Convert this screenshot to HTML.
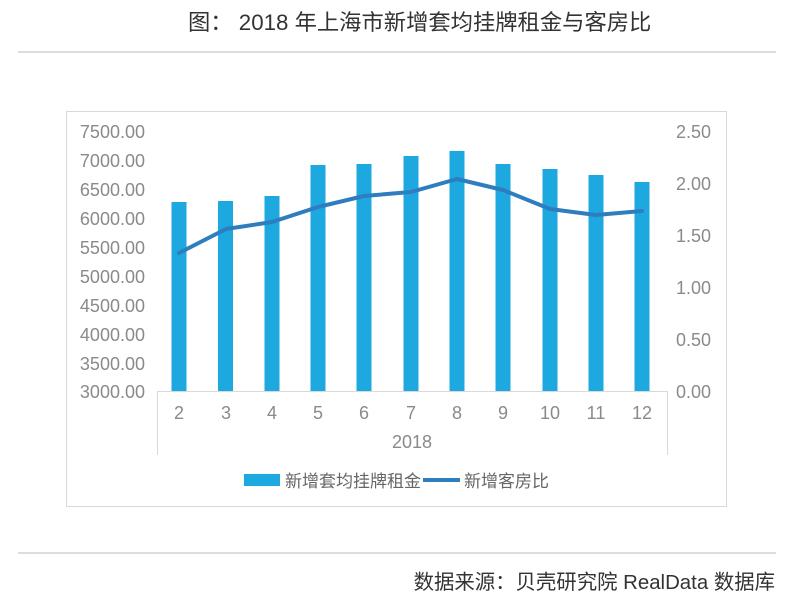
<!DOCTYPE html>
<html><head><meta charset="utf-8"><style>
body{margin:0;background:#fff;}
svg{display:block;font-family:"Liberation Sans","Noto Sans CJK SC",sans-serif;}
</style></head><body>
<svg width="786" height="604" viewBox="0 0 786 604">
<text x="188" y="30" font-size="22.3" fill="#333">图：  2018 年上海市新增套均挂牌租金与客房比</text>
<line x1="18" y1="52" x2="776" y2="52" stroke="#bbb" stroke-width="1"/>
<line x1="18" y1="553" x2="776" y2="553" stroke="#bbb" stroke-width="1"/>
<text x="775" y="589" text-anchor="end" font-size="20.4" fill="#333">数据来源：贝壳研究院 RealData 数据库</text>
<rect x="66.5" y="111.5" width="660" height="395" fill="none" stroke="#d9d9d9"/>
<g font-size="18" fill="#8a8a8a" text-anchor="end">
<text x="145" y="138">7500.00</text><text x="145" y="167">7000.00</text><text x="145" y="196">6500.00</text><text x="145" y="225">6000.00</text><text x="145" y="254">5500.00</text><text x="145" y="283">5000.00</text><text x="145" y="312">4500.00</text><text x="145" y="341">4000.00</text><text x="145" y="370">3500.00</text><text x="145" y="398">3000.00</text>
</g>
<g font-size="18" fill="#8a8a8a" text-anchor="start">
<text x="676" y="138">2.50</text><text x="676" y="190">2.00</text><text x="676" y="242">1.50</text><text x="676" y="294">1.00</text><text x="676" y="346">0.50</text><text x="676" y="398">0.00</text>
</g>
<g fill="#1ea8e0">
<rect x="171.5" y="202" width="15" height="189"/>
<rect x="218" y="201" width="15" height="190"/>
<rect x="264.5" y="196" width="15" height="195"/>
<rect x="310.5" y="165" width="15" height="226"/>
<rect x="356.5" y="164" width="15" height="227"/>
<rect x="403.5" y="156" width="15" height="235"/>
<rect x="449.5" y="151" width="15" height="240"/>
<rect x="495.5" y="164" width="15" height="227"/>
<rect x="542.5" y="169" width="15" height="222"/>
<rect x="588.5" y="175" width="15" height="216"/>
<rect x="634.5" y="182" width="15" height="209"/>
</g>
<polyline fill="none" stroke="#2e7dbf" stroke-width="4" stroke-linejoin="round" stroke-linecap="round" points="179,253 226,229 272,222 318,207 364,196 411,192 457,179 503,190 550,209 596,215 642,211"/>
<g stroke="#d9d9d9" fill="none">
<line x1="157.5" y1="391.5" x2="667" y2="391.5"/>
<line x1="157.5" y1="391" x2="157.5" y2="455"/>
<line x1="667.5" y1="391" x2="667.5" y2="455"/>
</g>
<g font-size="18" fill="#8a8a8a" text-anchor="middle">
<text x="179" y="419">2</text><text x="226" y="419">3</text><text x="272" y="419">4</text><text x="318" y="419">5</text><text x="364" y="419">6</text><text x="411" y="419">7</text><text x="457" y="419">8</text><text x="503" y="419">9</text><text x="550" y="419">10</text><text x="596" y="419">11</text><text x="642" y="419">12</text>
<text x="412" y="448">2018</text>
</g>
<rect x="244" y="474" width="36" height="12" fill="#1ea8e0"/>
<text x="285" y="487" font-size="17" fill="#666">新增套均挂牌租金</text>
<line x1="423" y1="480" x2="460" y2="480" stroke="#2e7dbf" stroke-width="4"/>
<text x="464" y="487" font-size="17" fill="#666">新增客房比</text>
</svg>
</body></html>
